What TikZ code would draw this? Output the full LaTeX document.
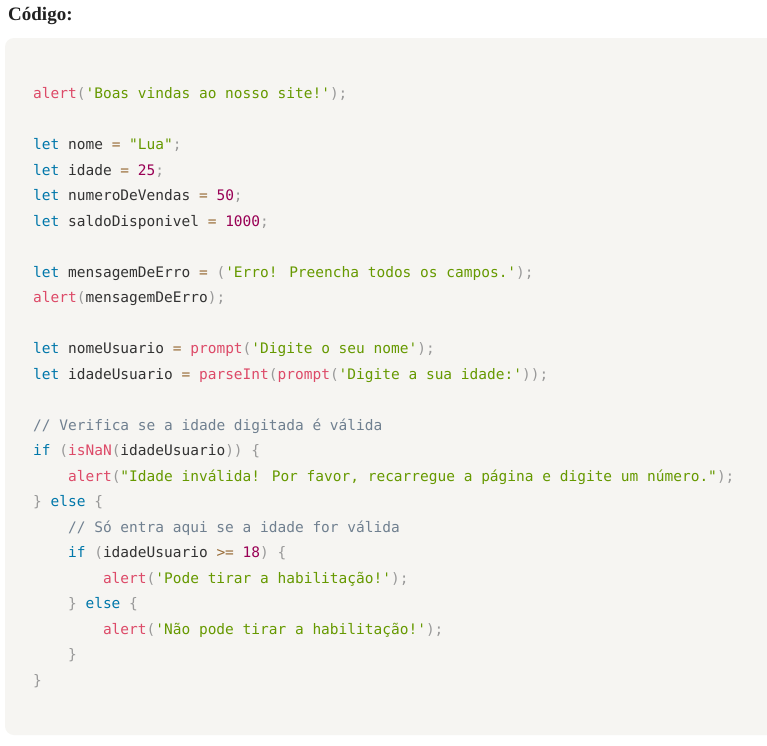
\documentclass[tikz,border=0pt]{standalone}
\usepackage{fontspec}
\setmainfont{Liberation Serif}
\newfontfamily\codefont{DejaVu Sans Mono}
\definecolor{cbg}{HTML}{F6F5F2}
\definecolor{ckw}{HTML}{0077AA}
\definecolor{cfn}{HTML}{DD4A68}
\definecolor{cst}{HTML}{669900}
\definecolor{cnm}{HTML}{990055}
\definecolor{cpu}{HTML}{999999}
\definecolor{cop}{HTML}{9A6E3A}
\definecolor{ccm}{HTML}{708090}
\definecolor{ctx}{HTML}{333333}
\newcommand\kw[1]{\textcolor{ckw}{#1}}
\newcommand\fn[1]{\textcolor{cfn}{#1}}
\newcommand\st[1]{\textcolor{cst}{#1}}
\newcommand\nm[1]{\textcolor{cnm}{#1}}
\newcommand\pu[1]{\textcolor{cpu}{#1}}
\newcommand\op[1]{\textcolor{cop}{#1}}
\newcommand\cm[1]{\textcolor{ccm}{#1}}
\newcommand\codeline[4]{\node[codeln] (#1) at ({33pt+34.9pt*#3},{-98.8pt-25.5pt*#2}) {#4};}
\tikzset{codeln/.style={anchor=base west,inner sep=0pt,font=\codefont\fontsize{14.5pt}{16pt}\selectfont,text=ctx}}
\begin{document}
\begin{tikzpicture}[x=1pt,y=1pt]
\useasboundingbox (0,0) rectangle (767,-745);
\fill[white] (0,0) rectangle (767,-745);
\fill[cbg,rounded corners=9pt] (5,-38) rectangle (790,-735);
\node[anchor=base west,inner sep=0pt,font=\bfseries\fontsize{19pt}{22pt}\selectfont,text=black!87] (title) at (8,-20) {Código:};
\codeline{a0}{0}{0}{\fn{alert}\pu{(}\st{'Boas vindas ao nosso site!'}\pu{);}}
\codeline{a2}{2}{0}{\kw{let} nome \op{=} \st{"Lua"}\pu{;}}
\codeline{a3}{3}{0}{\kw{let} idade \op{=} \nm{25}\pu{;}}
\codeline{a4}{4}{0}{\kw{let} numeroDeVendas \op{=} \nm{50}\pu{;}}
\codeline{a5}{5}{0}{\kw{let} saldoDisponivel \op{=} \nm{1000}\pu{;}}
\codeline{a7}{7}{0}{\kw{let} mensagemDeErro \op{=} \pu{(}\st{'Erro! Preencha todos os campos.'}\pu{);}}
\codeline{a8}{8}{0}{\fn{alert}\pu{(}mensagemDeErro\pu{);}}
\codeline{a10}{10}{0}{\kw{let} nomeUsuario \op{=} \fn{prompt}\pu{(}\st{'Digite o seu nome'}\pu{);}}
\codeline{a11}{11}{0}{\kw{let} idadeUsuario \op{=} \fn{parseInt}\pu{(}\fn{prompt}\pu{(}\st{'Digite a sua idade:'}\pu{));}}
\codeline{a13}{13}{0}{\cm{// Verifica se a idade digitada é válida}}
\codeline{a14}{14}{0}{\kw{if} \pu{(}\fn{isNaN}\pu{(}idadeUsuario\pu{))} \pu{\{}}
\codeline{a15}{15}{1}{\fn{alert}\pu{(}\st{"Idade inválida! Por favor, recarregue a página e digite um número."}\pu{);}}
\codeline{a16}{16}{0}{\pu{\}} \kw{else} \pu{\{}}
\codeline{a17}{17}{1}{\cm{// Só entra aqui se a idade for válida}}
\codeline{a18}{18}{1}{\kw{if} \pu{(}idadeUsuario \op{>=} \nm{18}\pu{)} \pu{\{}}
\codeline{a19}{19}{2}{\fn{alert}\pu{(}\st{'Pode tirar a habilitação!'}\pu{);}}
\codeline{a20}{20}{1}{\pu{\}} \kw{else} \pu{\{}}
\codeline{a21}{21}{2}{\fn{alert}\pu{(}\st{'Não pode tirar a habilitação!'}\pu{);}}
\codeline{a22}{22}{1}{\pu{\}}}
\codeline{a23}{23}{0}{\pu{\}}}
\end{tikzpicture}
\end{document}
